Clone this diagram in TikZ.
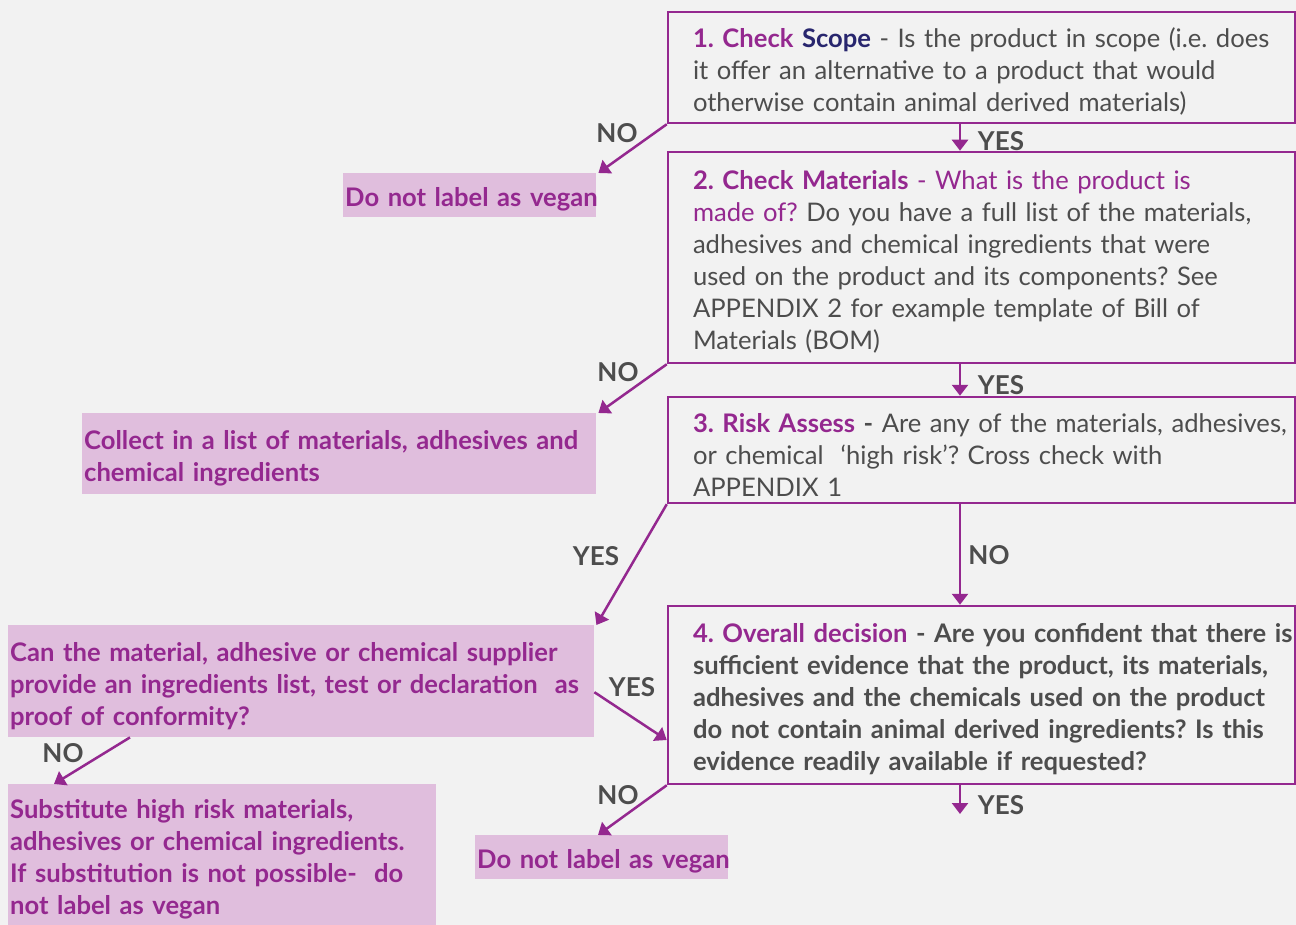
\documentclass[tikz,border=0pt]{standalone}
\usepackage{fontspec}
\setmainfont{Lato}
\usetikzlibrary{arrows.meta}
\definecolor{vpurple}{RGB}{148,40,143}
\definecolor{vnavy}{RGB}{40,38,110}
\definecolor{vgrey}{RGB}{77,77,77}
\definecolor{vpink}{RGB}{224,190,221}
\definecolor{vbg}{RGB}{242,242,242}
\frenchspacing
\begin{document}
\begin{tikzpicture}[x=1pt,y=-1pt,
	stepbox/.style={draw=vpurple,line width=2.5pt,minimum width=627pt,text width=577pt,inner xsep=25pt,text=vgrey,
		font=\fontsize{25.6}{32}\selectfont,execute at begin node={\parindent=0pt\rightskip=-40pt plus 1fil\relax\rule{0pt}{28pt}}},
	outbox/.style={fill=vpink,anchor=north west,inner xsep=2pt,text=vpurple,
		font=\fontsize{25.6}{32}\selectfont\bfseries,execute at begin node={\parindent=0pt\rightskip=-40pt plus 1fil\relax\rule{0pt}{28pt}}},
	flow/.style={draw=vpurple,line width=2.5pt,-{Triangle[length=11pt,width=16pt]}},
	lbl/.style={text=vgrey,font=\fontsize{26}{30}\selectfont\bfseries}]
	\useasboundingbox (0,0) rectangle (1296,925);
	\fill[vbg] (0,0) rectangle (1296,925);

	\node[stepbox,minimum height=111pt] (b1) at (981.5,67.5) {{\color{vpurple}\bfseries 1. Check} {\color{vnavy}\bfseries Scope} - Is the product in scope (i.e. does\\ it offer an alternative to a product that would\\ otherwise contain animal derived materials)};
	\node[stepbox,minimum height=211pt] (b2) at (981.5,257.5) {{\color{vpurple}\bfseries 2. Check Materials} {\color{vpurple}- What is the product is}\\ {\color{vpurple}made of?} Do you have a full list of the materials,\\ adhesives and chemical ingredients that were\\ used on the product and its components? See\\ APPENDIX 2 for example template of Bill of\\ Materials (BOM)};
	\node[stepbox,minimum height=106pt] (b3) at (981.5,450) {{\color{vpurple}\bfseries 3. Risk Assess} \textbf{-} Are any of the materials, adhesives,\\ or chemical\ \ ‘high risk’? Cross check with\\ APPENDIX 1};
	\node[stepbox,minimum height=178pt,font=\fontsize{25.6}{32}\selectfont\bfseries] (b4) at (981.5,695) {{\color{vpurple}4. Overall decision} - Are you confident that there is\\ sufficient evidence that the product, its materials,\\ adhesives and the chemicals used on the product\\ do not contain animal derived ingredients? Is this\\ evidence readily available if requested?};

	\node[outbox,minimum width=253pt,minimum height=44pt,text width=249pt] (nv1) at (343,173) {Do not label as vegan};
	\node[outbox,minimum width=514pt,minimum height=81pt,text width=510pt] (coll) at (82,413) {Collect in a list of materials, adhesives and\\ chemical ingredients};
	\node[outbox,minimum width=586pt,minimum height=112pt,text width=582pt] (can) at (8,625) {Can the material, adhesive or chemical supplier\\ provide an ingredients list, test or declaration\ \ as\\ proof of conformity?};
	\node[outbox,minimum width=428pt,minimum height=141pt,text width=424pt] (subst) at (8,784) {Substitute high risk materials,\\ adhesives or chemical ingredients.\\ If substitution is not possible-\ \ do\\ not label as vegan};
	\node[outbox,minimum width=253pt,minimum height=44pt,text width=249pt] (nv2) at (475,835) {Do not label as vegan};

	\draw[flow] ([xshift=-21.5pt]b1.south) -- ([xshift=-21.5pt]b2.north);
	\draw[flow] ([xshift=-21.5pt]b2.south) -- ([xshift=-21.5pt]b3.north);
	\draw[flow] ([xshift=-21.5pt]b3.south) -- ([xshift=-21.5pt]b4.north);
	\coordinate (end4) at (960,814);
	\draw[flow] ([xshift=-21.5pt]b4.south) -- (end4);
	\draw[flow] (b1.south west) -- ([xshift=2pt]nv1.north east);
	\draw[flow] (b2.south west) -- ([xshift=2pt]coll.north east);
	\draw[flow] (b3.south west) -- ([xshift=2pt]can.north east);
	\draw[flow] ([yshift=-11pt]can.east) -- ([yshift=-45pt]b4.west);
	\draw[flow] ([xshift=122pt]can.south west) -- ([xshift=46pt]subst.north west);
	\draw[flow] (b4.south west) -- ([xshift=123pt]nv2.north west);

	\node[lbl] (yes1) at (1001,141) {YES};
	\node[lbl] (no1) at (617,133) {NO};
	\node[lbl] (yes2) at (1001,385) {YES};
	\node[lbl] (no2) at (618,372) {NO};
	\node[lbl] (yes3) at (596,556) {YES};
	\node[lbl] (no3) at (989,555) {NO};
	\node[lbl] (yes4) at (632,687) {YES};
	\node[lbl] (no4) at (63,753) {NO};
	\node[lbl] (no5) at (618,795) {NO};
	\node[lbl] (yes5) at (1001,805) {YES};
\end{tikzpicture}
\end{document}
